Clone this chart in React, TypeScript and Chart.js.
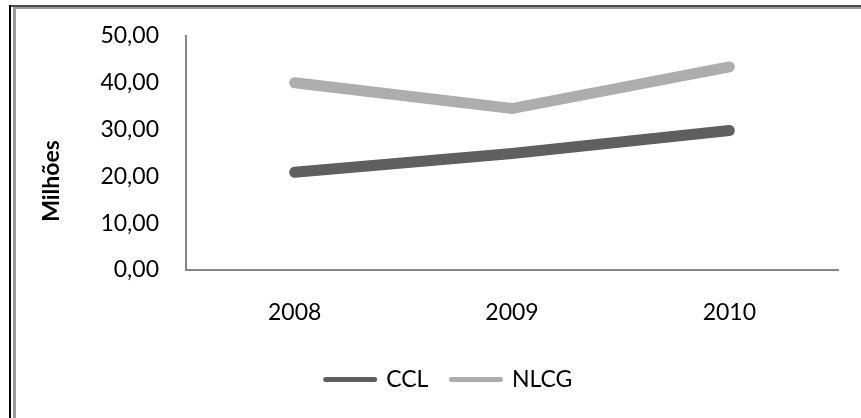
import React, { useEffect, useRef } from 'react';
import { Chart, registerables } from 'chart.js';

Chart.register(...registerables);

const categories = ['2008', '2009', '2010'];
const seriesNames = ['CCL', 'NLCG'];
const cclValues = [20.9, 24.9, 29.8];
const nlcgValues = [40.0, 34.5, 43.4];
const yTicks = [0, 10, 20, 30, 40, 50];
const axisTitle = 'Milhões';

const FONT = "Lato, 'Open Sans', sans-serif";
const formatTick = (v: number) => v.toFixed(2).replace('.', ',');

const sideTitlePlugin = {
  id: 'sideTitle',
  afterDraw(chart: any) {
    const ctx = chart.ctx;
    const area = chart.chartArea;
    ctx.save();
    ctx.translate(area.left - 134, area.top + 145);
    ctx.rotate(-Math.PI / 2);
    ctx.font = `bold 23px ${FONT}`;
    ctx.fillStyle = '#000000';
    ctx.textAlign = 'center';
    ctx.textBaseline = 'middle';
    ctx.fillText(axisTitle, 0, 0);
    ctx.restore();
  },
};

export default function App() {
  const canvasRef = useRef<HTMLCanvasElement | null>(null);

  useEffect(() => {
    const canvas = canvasRef.current;
    if (!canvas) return;
    const defaultLabels = (Chart.defaults.plugins.legend.labels as any).generateLabels;
    const chart = new Chart(canvas, {
      type: 'line',
      data: {
        labels: categories,
        datasets: [
          {
            label: seriesNames[0],
            data: cclValues,
            borderColor: '#5f5f5f',
            backgroundColor: '#5f5f5f',
            borderWidth: 11,
            borderCapStyle: 'round',
            borderJoinStyle: 'miter',
            pointRadius: 0,
            tension: 0,
          },
          {
            label: seriesNames[1],
            data: nlcgValues,
            borderColor: '#adadad',
            backgroundColor: '#adadad',
            borderWidth: 11,
            borderCapStyle: 'round',
            borderJoinStyle: 'miter',
            pointRadius: 0,
            tension: 0,
          },
        ],
      },
      options: {
        responsive: false,
        animation: false,
        layout: { padding: { left: 60, right: 23, top: 36, bottom: 17 } },
        plugins: {
          tooltip: { enabled: false },
          legend: {
            position: 'bottom',
            labels: {
              font: { family: FONT, size: 23 },
              color: '#000000',
              usePointStyle: true,
              pointStyle: 'line',
              pointStyleWidth: 49,
              padding: 23,
              generateLabels: (c: any) =>
                defaultLabels(c).map((item: any) => ({
                  ...item,
                  lineWidth: 5,
                  lineCap: 'round',
                  pointStyle: 'line',
                })),
            },
          },
        },
        scales: {
          x: {
            offset: true,
            grid: { display: false, drawTicks: false },
            border: { display: true, color: '#868686', width: 2 },
            ticks: { font: { family: FONT, size: 23 }, color: '#000000', padding: 29 },
            afterFit: (scale: any) => {
              scale.height = 75;
            },
          },
          y: {
            min: 0,
            max: 50,
            grid: { display: false, drawTicks: false },
            border: { display: true, color: '#868686', width: 2 },
            afterBuildTicks: (scale: any) => {
              scale.ticks = yTicks.map((v) => ({ value: v }));
            },
            ticks: {
              font: { family: FONT, size: 23 },
              color: '#000000',
              padding: 27,
              callback: (v: any) => formatTick(Number(v)),
            },
            afterFit: (scale: any) => {
              scale.width = 126;
              scale.paddingTop = 0;
              scale.paddingBottom = 0;
            },
          },
        },
      },
      plugins: [sideTitlePlugin],
    } as any);
    return () => chart.destroy();
  }, []);

  return (
    <div style={{ position: 'absolute', left: 0, top: 0, width: 861, height: 418, background: '#ffffff', overflow: 'hidden' }}>
      <canvas ref={canvasRef} width={861} height={418} style={{ display: 'block', width: 861, height: 418 }} />
      <div style={{ position: 'absolute', left: 9, top: 5, width: 852, height: 2, background: '#4d4d4d' }} />
      <div style={{ position: 'absolute', left: 9, top: 5, width: 2, height: 413, background: '#000000' }} />
      <div style={{ position: 'absolute', left: 13, top: 7, width: 848, height: 2, background: '#9a9a9a' }} />
      <div style={{ position: 'absolute', left: 13, top: 7, width: 3, height: 411, background: '#9a9a9a' }} />
    </div>
  );
}
